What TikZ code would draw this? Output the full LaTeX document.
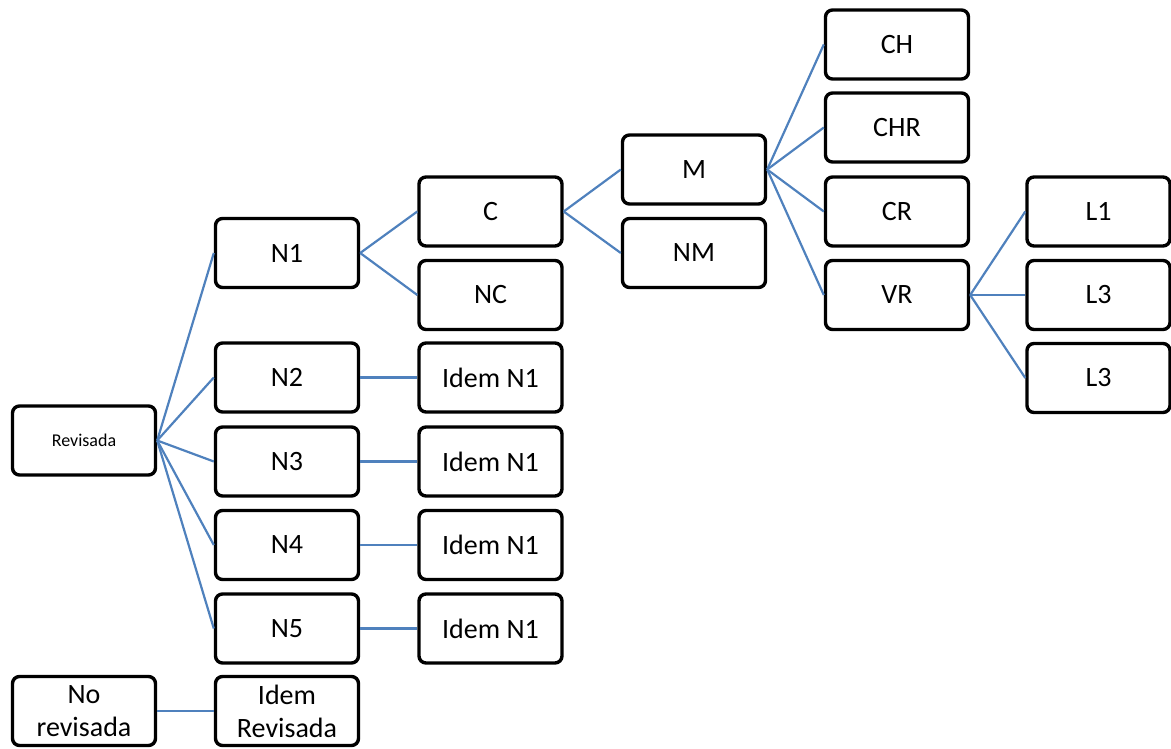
\documentclass[tikz,border=0pt]{standalone}
\usepackage{fontspec}
\setmainfont{Carlito}
\definecolor{linkblue}{HTML}{4F81BD}
\begin{document}
\begin{tikzpicture}[x=1pt,y=-1pt,
  box/.style={draw=black,line width=3.4pt,rounded corners=7pt,fill=white,
    minimum width=143pt,minimum height=69pt,inner sep=0pt,align=center,
    font=\fontsize{28}{33}\selectfont},
  link/.style={draw=linkblue,line width=2.2pt}]
\useasboundingbox (0,0) rectangle (1171,749);
% column 1
\node[box,font=\fontsize{18}{21}\selectfont] (rev) at (84,440.5) {Revisada};
\node[box] (norev) at (84,711) {No\\revisada};
% column 2
\node[box] (n1) at (287,253) {N1};
\node[box] (n2) at (287,377.5) {N2};
\node[box] (n3) at (287,461.5) {N3};
\node[box] (n4) at (287,545) {N4};
\node[box] (n5) at (287,628.5) {N5};
\node[box] (idemrev) at (287,711) {Idem\\Revisada};
% column 3
\node[box] (c) at (490.5,211.5) {C};
\node[box] (nc) at (490.5,295) {NC};
\node[box] (i2) at (490.5,377.5) {Idem N1};
\node[box] (i3) at (490.5,461.5) {Idem N1};
\node[box] (i4) at (490.5,545) {Idem N1};
\node[box] (i5) at (490.5,628.5) {Idem N1};
% column 4
\node[box] (m) at (694,169.5) {M};
\node[box] (nm) at (694,253) {NM};
% column 5
\node[box] (ch) at (897,44.5) {CH};
\node[box] (chr) at (897,127.5) {CHR};
\node[box] (cr) at (897,211.5) {CR};
\node[box] (vr) at (897,295) {VR};
% column 6
\node[box] (l1) at (1098.5,211.5) {L1};
\node[box] (l3a) at (1098.5,295) {L3};
\node[box] (l3b) at (1098.5,378) {L3};
% connectors
\foreach \t in {n1,n2,n3,n4,n5} \draw[link] (rev.east) -- (\t.west);
\draw[link] (norev.east) -- (idemrev.west);
\draw[link] (n1.east) -- (c.west);
\draw[link] (n1.east) -- (nc.west);
\draw[link] (n2.east) -- (i2.west);
\draw[link] (n3.east) -- (i3.west);
\draw[link] (n4.east) -- (i4.west);
\draw[link] (n5.east) -- (i5.west);
\draw[link] (c.east) -- (m.west);
\draw[link] (c.east) -- (nm.west);
\foreach \t in {ch,chr,cr,vr} \draw[link] (m.east) -- (\t.west);
\foreach \t in {l1,l3a,l3b} \draw[link] (vr.east) -- (\t.west);
\end{tikzpicture}
\end{document}
